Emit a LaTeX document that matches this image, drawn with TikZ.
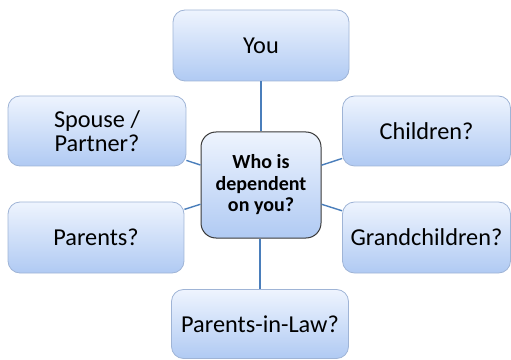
\documentclass[tikz,border=0pt]{standalone}
\usepackage{fontspec}
\setmainfont{Carlito}
\definecolor{boxtop}{HTML}{EEF4FE}
\definecolor{boxbot}{HTML}{B0CAF3}
\definecolor{boxline}{HTML}{9FB4D6}
\definecolor{hubline}{HTML}{3A3A3A}
\definecolor{linkcol}{HTML}{4A7EBB}
\begin{document}
\begin{tikzpicture}[x=1pt,y=1pt,
  leaf/.style={draw=boxline, line width=0.8pt, rounded corners=12pt,
    top color=boxtop, bottom color=boxbot, align=center, inner sep=0pt,
    font=\fontsize{24.3}{24}\selectfont, text=black},
  hub/.style={draw=hubline, line width=1pt, rounded corners=15pt,
    top color=boxtop, bottom color=boxbot, align=center, inner sep=0pt,
    font=\fontsize{20}{21.5}\selectfont\bfseries, text=black},
  link/.style={draw=linkcol, line width=1.4pt}]
\useasboundingbox (0,0) rectangle (511,359);
\node[leaf, minimum width=176pt, minimum height=71pt] (you) at (261,313.5) {You};
\node[leaf, minimum width=178pt, minimum height=70pt] (spouse) at (97,228) {Spouse /\\Partner?};
\node[leaf, minimum width=168pt, minimum height=70pt] (child) at (426.5,228) {Children?};
\node[leaf, minimum width=176pt, minimum height=71pt] (parents) at (96,121.5) {Parents?};
\node[leaf, minimum width=168pt, minimum height=71pt] (grand) at (426.5,121.5) {Grandchildren?};
\node[leaf, minimum width=177pt, minimum height=69pt] (pil) at (260,35) {Parents-in-Law?};
\node[hub, minimum width=120pt, minimum height=106pt] (hub) at (261,174) {Who is\\dependent\\on you?};
\draw[link] (hub) -- (you);
\draw[link] (hub.south -| pil.north) -- (pil.north);
\draw[link] (hub) -- (spouse);
\draw[link] (hub) -- (child);
\draw[link] (hub) -- (parents);
\draw[link] (hub) -- (grand);
\end{tikzpicture}
\end{document}
